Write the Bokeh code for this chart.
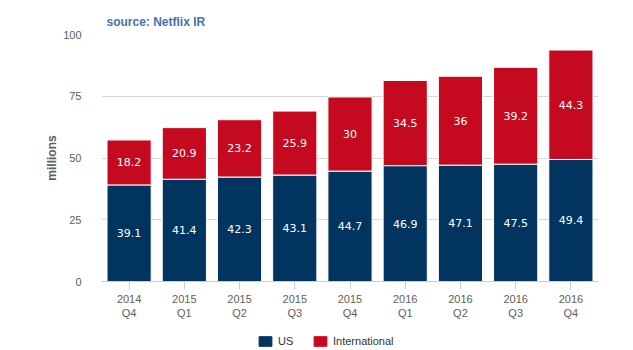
from bokeh.plotting import figure
from bokeh.layouts import column
from bokeh.models import ColumnDataSource, Legend, LegendItem, FactorRange, FixedTicker
from bokeh.embed import file_html
from bokeh.resources import INLINE
from bokeh.core.properties import value

years = ["2014", "2015", "2015", "2015", "2015", "2016", "2016", "2016", "2016"]
quarters = ["Q4", "Q1", "Q2", "Q3", "Q4", "Q1", "Q2", "Q3", "Q4"]
us = [39.1, 41.4, 42.3, 43.1, 44.7, 46.9, 47.1, 47.5, 49.4]
intl = [18.2, 20.9, 23.2, 25.9, 30, 34.5, 36, 39.2, 44.3]
series_names = ["US", "International"]
series_colors = ["#01355f", "#c50a1f"]
y_ticks = [0, 25, 50, 75, 100]

cats = [f"{y}\n{q}" for y, q in zip(years, quarters)]

src = ColumnDataSource(dict(
    cat=cats,
    US=us,
    International=intl,
    us_mid=[u / 2 for u in us],
    int_mid=[u + i / 2 for u, i in zip(us, intl)],
    us_txt=[f"{u:g}" for u in us],
    int_txt=[f"{i:g}" for i in intl],
))

p = figure(width=633, height=321, x_range=FactorRange(*cats, range_padding=0),
           y_range=(0, 100), output_backend="svg", toolbar_location=None,
           min_border_left=101, min_border_right=35, min_border_top=34,
           min_border_bottom=40)
p.outline_line_color = None

renderers = p.vbar_stack(series_names, x="cat", width=0.8, source=src,
                         color=series_colors, line_color="white", line_width=1)

for ycol, tcol in (("us_mid", "us_txt"), ("int_mid", "int_txt")):
    p.text(x="cat", y=ycol, text=tcol, source=src, text_color="white",
           text_align="center", text_baseline="middle",
           text_font=value("DejaVu Sans"), text_font_size="11px")

p.title.text = "source: Netflix IR"
p.title.text_color = "#4572A7"
p.title.text_font = "Liberation Sans"
p.title.text_font_size = "12px"
p.title.text_font_style = "bold"
p.title.offset = 5
p.title.standoff = 12

p.xgrid.grid_line_color = None
p.ygrid.grid_line_color = "#d8d8d8"
p.yaxis.ticker = FixedTicker(ticks=y_ticks)
p.yaxis.axis_line_color = None
p.yaxis.major_tick_line_color = None
p.yaxis.minor_tick_line_color = None
p.yaxis.major_label_standoff = 14
p.yaxis.axis_label = "millions"
p.yaxis.axis_label_text_font = "Liberation Sans"
p.yaxis.axis_label_text_font_size = "12px"
p.yaxis.axis_label_text_font_style = "bold"
p.yaxis.axis_label_text_color = "#606060"
p.yaxis.axis_label_standoff = 1

p.xaxis.axis_line_color = "#c0d0e0"
p.xaxis.major_tick_line_color = "#c0d0e0"
p.xaxis.major_tick_out = 8
p.xaxis.major_tick_in = 0
p.xaxis.major_label_standoff = 3

for ax in (p.xaxis, p.yaxis):
    ax.major_label_text_font = "Liberation Sans"
    ax.major_label_text_font_size = "11px"
    ax.major_label_text_color = "#606060"

# legend strip below the chart (its swatch renderers hold no visible marks)
lg = figure(width=633, height=29, output_backend="svg", toolbar_location=None,
            x_axis_type=None, y_axis_type=None, min_border=0,
            x_range=(0, 1), y_range=(0, 1))
lg.outline_line_color = None
lg.xgrid.grid_line_color = None
lg.ygrid.grid_line_color = None
blank = ColumnDataSource(dict(x=[float("nan")], top=[float("nan")]))
lg_renderers = [lg.vbar(x="x", top="top", width=0.5, source=blank, color=c)
                for c in series_colors]

legend = Legend(items=[LegendItem(label=n, renderers=[r]) for n, r in zip(series_names, lg_renderers)],
                orientation="horizontal", location=(156, 3),
                label_text_font="Liberation Sans", label_text_font_size="11px",
                label_text_color="#333333", glyph_width=16, glyph_height=12,
                label_height=12, label_standoff=5, spacing=14, padding=0, margin=0,
                border_line_color=None, background_fill_alpha=0)
lg.add_layout(legend)

layout = column(p, lg, spacing=0)
open("out.html", "w").write(file_html(layout, INLINE))
